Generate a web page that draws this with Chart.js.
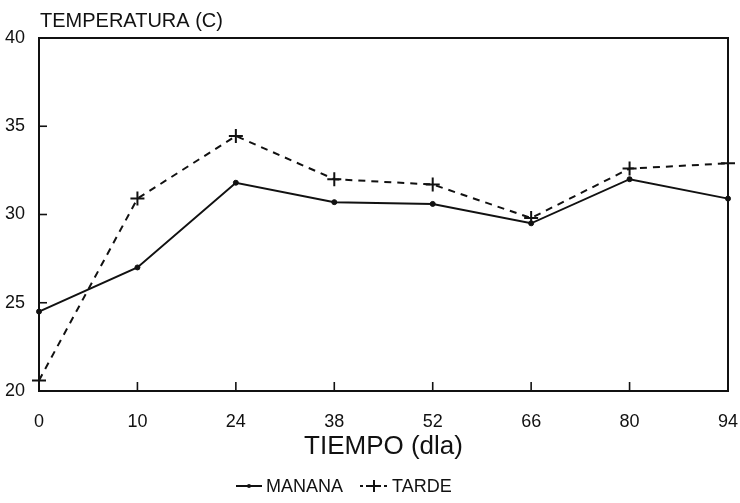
<!DOCTYPE html>
<html>
<head>
<meta charset="utf-8">
<script src="https://cdn.jsdelivr.net/npm/chart.js@4.4.0/dist/chart.umd.min.js"></script>
<style>
  html, body { margin: 0; padding: 0; background: #fff; }
  #wrap { width: 740px; height: 503px; position: relative; }
</style>
</head>
<body>
<div id="wrap"><canvas id="c" width="740" height="503"></canvas></div>
<script>
const categories = ['0', '10', '24', '38', '52', '66', '80', '94'];
const manana = [24.5, 27.0, 31.8, 30.7, 30.6, 29.5, 32.0, 30.9];
const tarde = [20.6, 30.9, 34.45, 32.0, 31.7, 29.8, 32.6, 32.9];
const yTicks = [20, 25, 30, 35, 40];
const yTitle = 'TEMPERATURA (C)';
const xTitle = 'TIEMPO (dla)';
const seriesNames = ['MANANA', 'TARDE'];

const FONT = "'Liberation Sans', Arial, sans-serif";
const INK = '#111';

const decor = {
  id: 'decor',
  afterDraw(chart) {
    const { ctx, chartArea: a, scales } = chart;
    ctx.save();
    ctx.strokeStyle = INK;
    ctx.lineWidth = 2;
    ctx.strokeRect(a.left, a.top, a.right - a.left, a.bottom - a.top);
    // inward ticks
    ctx.lineWidth = 1.6;
    scales.y.ticks.forEach((t) => {
      const y = scales.y.getPixelForValue(t.value);
      ctx.beginPath(); ctx.moveTo(a.left, y); ctx.lineTo(a.left + 8, y); ctx.stroke();
    });
    categories.forEach((c, i) => {
      const x = scales.x.getPixelForValue(i);
      ctx.beginPath(); ctx.moveTo(x, a.bottom); ctx.lineTo(x, a.bottom - 9); ctx.stroke();
    });
    // titles
    ctx.fillStyle = INK;
    ctx.textBaseline = 'alphabetic';
    ctx.textAlign = 'left';
    ctx.font = '20px ' + FONT;
    ctx.fillText(yTitle, a.left + 1, a.top - 11);
    ctx.textAlign = 'center';
    ctx.font = '26px ' + FONT;
    ctx.fillText(xTitle, (a.left + a.right) / 2, 454);
    // legend
    const ly = 492;
    ctx.font = '18px ' + FONT;
    ctx.textAlign = 'left';
    ctx.lineWidth = 2;
    // MANANA
    ctx.setLineDash([]);
    ctx.beginPath(); ctx.moveTo(236, ly - 6); ctx.lineTo(262, ly - 6); ctx.stroke();
    ctx.beginPath(); ctx.arc(249, ly - 6, 2, 0, Math.PI * 2); ctx.fill();
    ctx.fillText(seriesNames[0], 266, ly);
    // TARDE
    ctx.setLineDash([3, 3]);
    ctx.beginPath(); ctx.moveTo(360, ly - 6); ctx.lineTo(388, ly - 6); ctx.stroke();
    ctx.setLineDash([]);
    ctx.beginPath(); ctx.moveTo(368, ly - 6); ctx.lineTo(380, ly - 6); ctx.moveTo(374, ly - 12); ctx.lineTo(374, ly); ctx.stroke();
    ctx.fillText(seriesNames[1], 392, ly);
    ctx.restore();
  }
};

new Chart(document.getElementById('c'), {
  type: 'line',
  data: {
    labels: categories,
    datasets: [
      {
        label: seriesNames[0], data: manana,
        borderColor: INK, backgroundColor: INK, borderWidth: 2,
        pointStyle: 'circle', pointRadius: 2.5, pointBorderWidth: 1,
        tension: 0, fill: false
      },
      {
        label: seriesNames[1], data: tarde,
        borderColor: INK, backgroundColor: INK, borderWidth: 2,
        borderDash: [7, 6],
        pointStyle: 'cross', pointRadius: 7, pointBorderWidth: 2,
        tension: 0, fill: false
      }
    ]
  },
  options: {
    responsive: false,
    animation: false,
    devicePixelRatio: 1,
    layout: { padding: { top: 38, right: 12, left: 0, bottom: 0 } },
    plugins: { legend: { display: false }, title: { display: false }, tooltip: { enabled: false } },
    scales: {
      x: {
        type: 'category',
        offset: false,
        grid: { display: false },
        border: { display: false },
        ticks: { color: INK, font: { family: FONT, size: 18 }, padding: 12, maxRotation: 0, autoSkip: false },
        afterFit(s) { s.height = 112; s.paddingRight = 0; s.paddingLeft = 0; }
      },
      y: {
        min: 20, max: 40,
        afterBuildTicks(s) { s.ticks = yTicks.map(v => ({ value: v })); },
        grid: { display: false },
        border: { display: false },
        ticks: { color: INK, font: { family: FONT, size: 18 }, padding: 6 },
        afterFit(s) { s.width = 39; s.paddingTop = 0; s.paddingBottom = 0; }
      }
    }
  },
  plugins: [decor]
});
</script>
</body>
</html>
